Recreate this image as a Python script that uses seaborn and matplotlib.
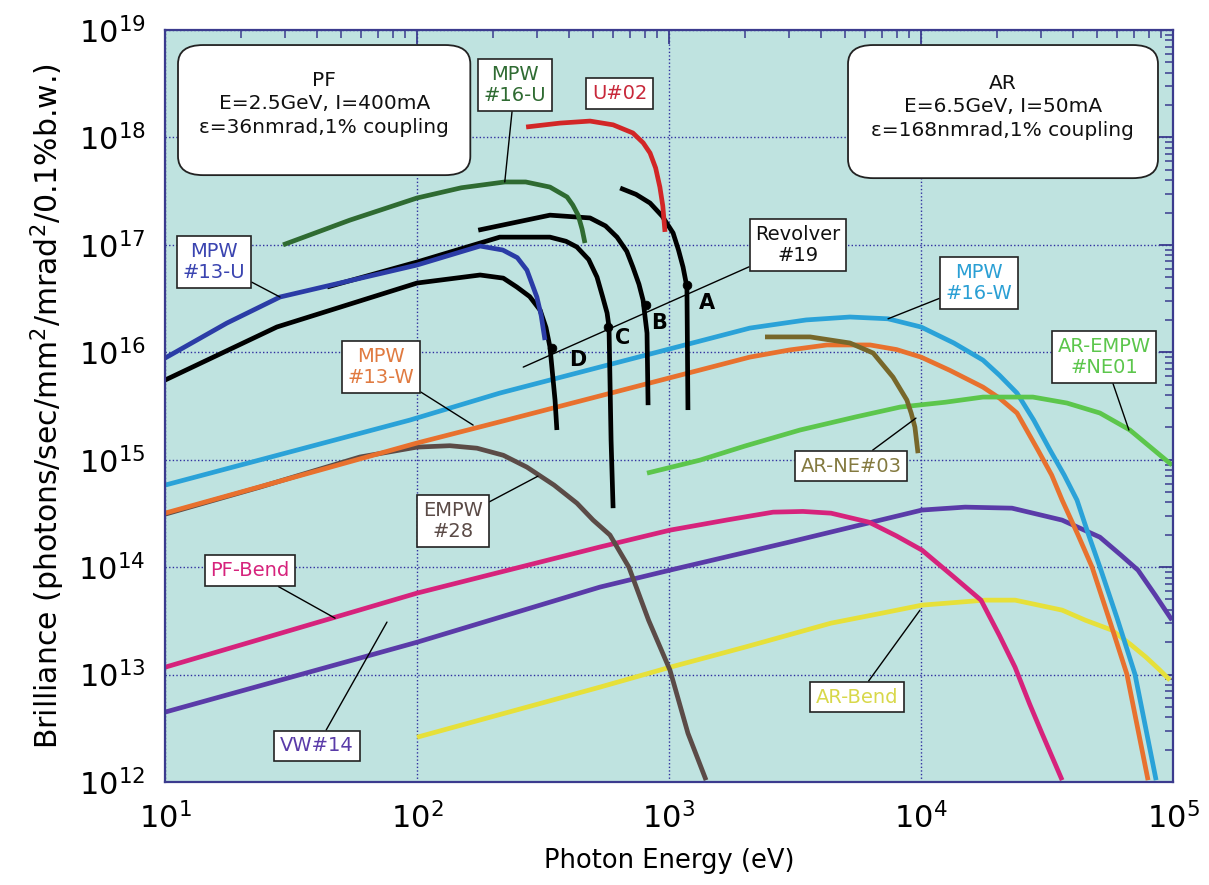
import numpy as np
import pandas as pd
import matplotlib
matplotlib.use("Agg")
import matplotlib.pyplot as plt
import seaborn as sns
from matplotlib.patches import FancyBboxPatch
from matplotlib.ticker import FixedLocator, NullFormatter, LogFormatterSciNotation

# ---------------- data (photon energy in eV, brilliance) ----------------
u02_E = [271, 370, 486, 600, 719, 790, 841, 885, 920, 945, 964]
u02_B = [1.25e18, 1.36e18, 1.42e18, 1.31e18, 1.10e18, 8.9e17, 7.16e17, 5.2e17, 3.45e17, 2.3e17, 1.32e17]

mpw16u_E = [29.4, 54.2, 100, 150, 223, 270, 337, 394, 415, 436, 452, 464]
mpw16u_B = [1.0e17, 1.70e17, 2.73e17, 3.4e17, 3.85e17, 3.85e17, 3.45e17, 2.79e17, 2.35e17, 1.89e17, 1.4e17, 1.04e17]

mpw13u_E = [10, 17.6, 28.6, 100, 178, 219, 250, 273, 299, 311, 322]
mpw13u_B = [8.83e15, 1.87e16, 3.27e16, 6.49e16, 9.75e16, 8.95e16, 7.6e16, 5.82e16, 3.27e16, 2.2e16, 1.30e16]

revD_E = [10, 27.8, 100, 178, 220, 249, 280, 308, 325, 337, 353, 359]
revD_B = [5.51e15, 1.72e16, 4.41e16, 5.24e16, 4.9e16, 4.05e16, 3.3e16, 2.47e16, 1.7e16, 1.12e16, 3.59e15, 1.89e15]

revC_E = [44.0, 100, 213, 337, 390, 431, 480, 518, 545, 568, 578, 589, 600]
revC_B = [4.05e16, 6.92e16, 1.18e17, 1.18e17, 1.08e17, 9.55e16, 7.3e16, 5.01e16, 3.3e16, 2.32e16, 1.72e16, 1.52e15, 3.54e14]

revB_E = [175, 337, 486, 560, 622, 680, 719, 760, 789, 818, 826]
revB_B = [1.37e17, 1.89e17, 1.78e17, 1.5e17, 1.18e17, 8.7e16, 6.21e16, 4.3e16, 3.06e16, 1.51e16, 3.22e15]

revA_E = [640, 740, 841, 940, 1038, 1090, 1137, 1178, 1189]
revA_B = [3.38e17, 2.95e17, 2.45e17, 1.85e17, 1.29e17, 9.0e16, 6.21e16, 4.05e16, 2.90e15]

mpw16w_E = [10, 93.8, 213, 2094, 3500, 5224, 7400, 10000, 13500, 17620, 20500, 24040, 28000,
            32510, 37000, 41590, 46000, 51290, 60000, 70630, 85700]
mpw16w_B = [5.80e14, 2.34e15, 4.17e15, 1.68e16, 2.0e16, 2.13e16, 2.05e16, 1.72e16, 1.22e16, 8.45e15,
            6.1e15, 4.17e15, 2.34e15, 1.23e15, 7.2e14, 4.21e14, 2.07e14, 1.0e14, 3.35e13, 1.01e13, 1.04e12]

mpw13w_E = [10, 100, 227, 2094, 3000, 4236, 6281, 8000, 10000, 13000, 17620, 20500, 24040, 29110,
            33000, 36310, 42000, 47750, 56000, 65610, 79620]
mpw13w_B = [3.18e14, 1.43e15, 2.34e15, 9.02e15, 1.05e16, 1.17e16, 1.17e16, 1.06e16, 9.02e15, 6.8e15,
            4.74e15, 3.74e15, 2.72e15, 1.23e15, 7.2e14, 4.21e14, 1.99e14, 1.0e14, 3.2e13, 1.01e13, 1.04e12]

empw28_E = [10, 23.8, 59.4, 100, 135, 173, 220, 273, 350, 431, 500, 583, 693, 830, 1009, 1100, 1189, 1403]
empw28_B = [3.11e14, 5.56e14, 1.06e15, 1.31e15, 1.35e15, 1.28e15, 1.1e15, 8.53e14, 5.8e14, 3.94e14,
            2.74e14, 1.99e14, 1.0e14, 3.2e13, 1.10e13, 5.4e12, 2.84e12, 1.04e12]

pfbend_E = [10, 100, 532, 1009, 1700, 2588, 3400, 4395, 6223, 8000, 10090, 13500, 17300, 20500,
            23620, 27000, 30200, 36310]
pfbend_B = [1.17e13, 5.73e13, 1.54e14, 2.21e14, 2.75e14, 3.25e14, 3.3e14, 3.18e14, 2.62e14, 1.95e14,
            1.44e14, 8.1e13, 4.93e13, 2.3e13, 1.17e13, 5.3e12, 2.84e12, 1.04e12]

vw14_E = [10, 100, 532, 1009, 3000, 10090, 14960, 22960, 30000, 36310, 51290, 62000, 72610, 85000, 99080]
vw14_B = [4.47e12, 2.00e13, 6.52e13, 9.38e13, 1.71e14, 3.40e14, 3.62e14, 3.54e14, 3.05e14, 2.74e14,
          1.90e14, 1.3e14, 9.38e13, 5.5e13, 3.21e13]

arbend_E = [100, 532, 1009, 2000, 4395, 7000, 10090, 17950, 23620, 36310, 45000, 57280, 68000, 78160, 88000, 97270]
arbend_B = [2.61e12, 7.64e12, 1.17e13, 1.8e13, 3.01e13, 3.73e13, 4.43e13, 4.93e13, 4.93e13, 3.98e13,
            3.2e13, 2.59e13, 1.9e13, 1.45e13, 1.12e13, 8.87e12]

arempw_E = [818, 1327, 2000, 3311, 5500, 8260, 12500, 17620, 27800, 37930, 51290, 67450, 83000, 99080]
arempw_B = [7.50e14, 9.91e14, 1.34e15, 1.89e15, 2.5e15, 3.09e15, 3.43e15, 3.83e15, 3.83e15, 3.37e15,
            2.72e15, 1.89e15, 1.26e15, 8.91e14]

arne03_E = [2404, 3631, 5224, 6457, 7745, 8790, 9150, 9460, 9730]
arne03_B = [1.39e16, 1.39e16, 1.22e16, 9.84e15, 5.87e15, 3.59e15, 2.7e15, 2.01e15, 1.15e15]

rev_dot_E = [343, 575, 810, 1178]
rev_dot_B = [1.1e16, 1.72e16, 2.75e16, 4.2e16]
rev_letters = ["D", "C", "B", "A"]

x_major = [1e1, 1e2, 1e3, 1e4, 1e5]
y_major = [1e12, 1e13, 1e14, 1e15, 1e16, 1e17, 1e18, 1e19]

series = {
    "AR-Bend": (arbend_E, arbend_B),
    "VW#14": (vw14_E, vw14_B),
    "PF-Bend": (pfbend_E, pfbend_B),
    "EMPW #28": (empw28_E, empw28_B),
    "MPW #13-W": (mpw13w_E, mpw13w_B),
    "MPW #16-W": (mpw16w_E, mpw16w_B),
    "AR-EMPW #NE01": (arempw_E, arempw_B),
    "AR-NE#03": (arne03_E, arne03_B),
    "Revolver D": (revD_E, revD_B),
    "Revolver C": (revC_E, revC_B),
    "Revolver B": (revB_E, revB_B),
    "Revolver A": (revA_E, revA_B),
    "MPW #13-U": (mpw13u_E, mpw13u_B),
    "MPW #16-U": (mpw16u_E, mpw16u_B),
    "U#02": (u02_E, u02_B),
}

colors = {
    "AR-Bend": "#e6e03a",
    "VW#14": "#5a3ba8",
    "PF-Bend": "#d6237c",
    "EMPW #28": "#5b4b47",
    "MPW #13-W": "#e8712e",
    "MPW #16-W": "#2aa2d8",
    "AR-EMPW #NE01": "#5cc64c",
    "AR-NE#03": "#77672a",
    "Revolver D": "#000000",
    "Revolver C": "#000000",
    "Revolver B": "#000000",
    "Revolver A": "#000000",
    "MPW #13-U": "#2b3ca6",
    "MPW #16-U": "#2f6b32",
    "U#02": "#d22626",
}

rows = []
for name, (E, B) in series.items():
    for i, (e, b) in enumerate(zip(E, B)):
        rows.append({"series": name, "order": i, "E": e, "B": b})
df = pd.DataFrame(rows)

# ---------------- figure ----------------
sns.set_theme(style="white")
plt.rcParams["font.family"] = ["DejaVu Sans"]
plt.rcParams["mathtext.fontset"] = "dejavusans"

fig = plt.figure(figsize=(12.09, 8.85), dpi=100)
ax = fig.add_axes([165 / 1209, 1 - 782 / 885, 1008 / 1209, 752 / 885])
ax.set_facecolor("#bfe3e0")

sns.lineplot(data=df, x="E", y="B", hue="series", hue_order=list(series.keys()),
             palette=colors, units="series", estimator=None, sort=False,
             linewidth=3.4, legend=False, ax=ax)
for ln in ax.lines:
    ln.set_solid_joinstyle("round")
    ln.set_solid_capstyle("butt")

ax.set_xscale("log")
ax.set_yscale("log")
ax.set_xlim(x_major[0], x_major[-1])
ax.set_ylim(y_major[0], y_major[-1])

dots = pd.DataFrame({"E": rev_dot_E, "B": rev_dot_B})
sns.scatterplot(data=dots, x="E", y="B", color="black", s=40, edgecolor="black",
                zorder=5, ax=ax, legend=False)

# grid and ticks (only inside the visible range)
spine_c = "#3b3b8e"
x_minor = [m * d for d in x_major[:-1] for m in range(2, 10)]
y_minor = [m * d for d in y_major[:-1] for m in range(2, 10)]
ax.xaxis.set_major_locator(FixedLocator(x_major))
ax.yaxis.set_major_locator(FixedLocator(y_major))
ax.xaxis.set_minor_locator(FixedLocator(x_minor))
ax.yaxis.set_minor_locator(FixedLocator(y_minor))
ax.xaxis.set_major_formatter(LogFormatterSciNotation())
ax.yaxis.set_major_formatter(LogFormatterSciNotation())
ax.xaxis.set_minor_formatter(NullFormatter())
ax.yaxis.set_minor_formatter(NullFormatter())
ax.grid(True, which="major", linestyle=(0, (1, 1.6)), color="#3030a0", linewidth=1.0)
ax.set_axisbelow(True)
ax.tick_params(which="both", direction="in", top=True, right=True, colors=spine_c,
               labelcolor="black")
ax.tick_params(which="major", length=10, width=1.3, labelsize=22, pad=14)
ax.tick_params(which="minor", length=6, width=1.1)
for sp in ax.spines.values():
    sp.set_color(spine_c)
    sp.set_linewidth(1.6)

ax.set_xlabel("Photon Energy (eV)", fontsize=18.5, labelpad=10, color="black")
ax.set_ylabel(r"Brilliance (photons/sec/mm$^2$/mrad$^2$/0.1%b.w.)", fontsize=21.5,
              labelpad=8, color="black")

# ---------------- info boxes ----------------
for (x0, y0, w, h, tx, ty, txt) in [
    (0.0129, 0.807, 0.290, 0.173, 0.158, 0.902, "PF\nE=2.5GeV, I=400mA\nε=36nmrad,1% coupling"),
    (0.6776, 0.803, 0.3075, 0.177, 0.831, 0.898, "AR\nE=6.5GeV, I=50mA\nε=168nmrad,1% coupling"),
]:
    box = FancyBboxPatch((x0, y0), w, h, boxstyle="round,pad=0,rounding_size=0.025",
                         transform=ax.transAxes, facecolor="white", edgecolor="#222222",
                         linewidth=1.3, zorder=6)
    ax.add_patch(box)
    ax.text(tx, ty, txt, transform=ax.transAxes, ha="center", va="center",
            fontsize=14.5, color="#111111", linespacing=1.3, zorder=7)

# ---------------- labels ----------------
label_box = dict(boxstyle="square,pad=0.3", facecolor="white", edgecolor="#222222", linewidth=1.2)
arrow = dict(arrowstyle="-", color="black", lw=1.0, shrinkA=0, shrinkB=0)

labels = [
    ("MPW\n#16-U", (0.347, 0.927), (223, 3.85e17), "#2f6b32"),
    ("U#02", (0.451, 0.916), None, "#c8283a"),
    ("MPW\n#13-U", (0.0486, 0.691), (28.6, 3.27e16), "#3a44b0"),
    ("Revolver\n#19", (0.628, 0.714), (264, 7.28e15), "#111111"),
    ("MPW\n#16-W", (0.8075, 0.664), (7400, 2.05e16), "#2a9fd4"),
    ("AR-EMPW\n#NE01", (0.9315, 0.565), (66830, 1.89e15), "#5cc64c"),
    ("MPW\n#13-W", (0.2143, 0.552), (167, 2.10e15), "#e07a40"),
    ("AR-NE#03", (0.6806, 0.420), (9550, 2.44e15), "#847a40"),
    ("EMPW\n#28", (0.2857, 0.347), (302, 7.03e14), "#5b4b47"),
    ("PF-Bend", (0.0843, 0.281), (47.3, 3.35e13), "#d6237c"),
    ("VW#14", (0.151, 0.048), (76.0, 3.08e13), "#5a3ba8"),
    ("AR-Bend", (0.6865, 0.113), (9910, 3.98e13), "#d8d84a"),
]
for txt, pos, target, col in labels:
    if target is None:
        ax.text(pos[0], pos[1], txt, transform=ax.transAxes, ha="center", va="center",
                fontsize=14, color=col, bbox=label_box, zorder=8, linespacing=1.15)
    else:
        ax.annotate(txt, xy=target, xycoords="data", xytext=pos, textcoords="axes fraction",
                    ha="center", va="center", fontsize=14, color=col, bbox=label_box,
                    arrowprops=arrow, zorder=8, linespacing=1.15)

# revolver letters
letter_pos = [(0.409, 0.561), (0.454, 0.590), (0.490, 0.610), (0.538, 0.637)]
for L, (lx, ly) in zip(rev_letters, letter_pos):
    ax.text(lx, ly, L, transform=ax.transAxes, ha="center", va="center",
            fontsize=15, fontweight="bold", color="black", zorder=8)

fig.savefig("out.png", dpi=100)
